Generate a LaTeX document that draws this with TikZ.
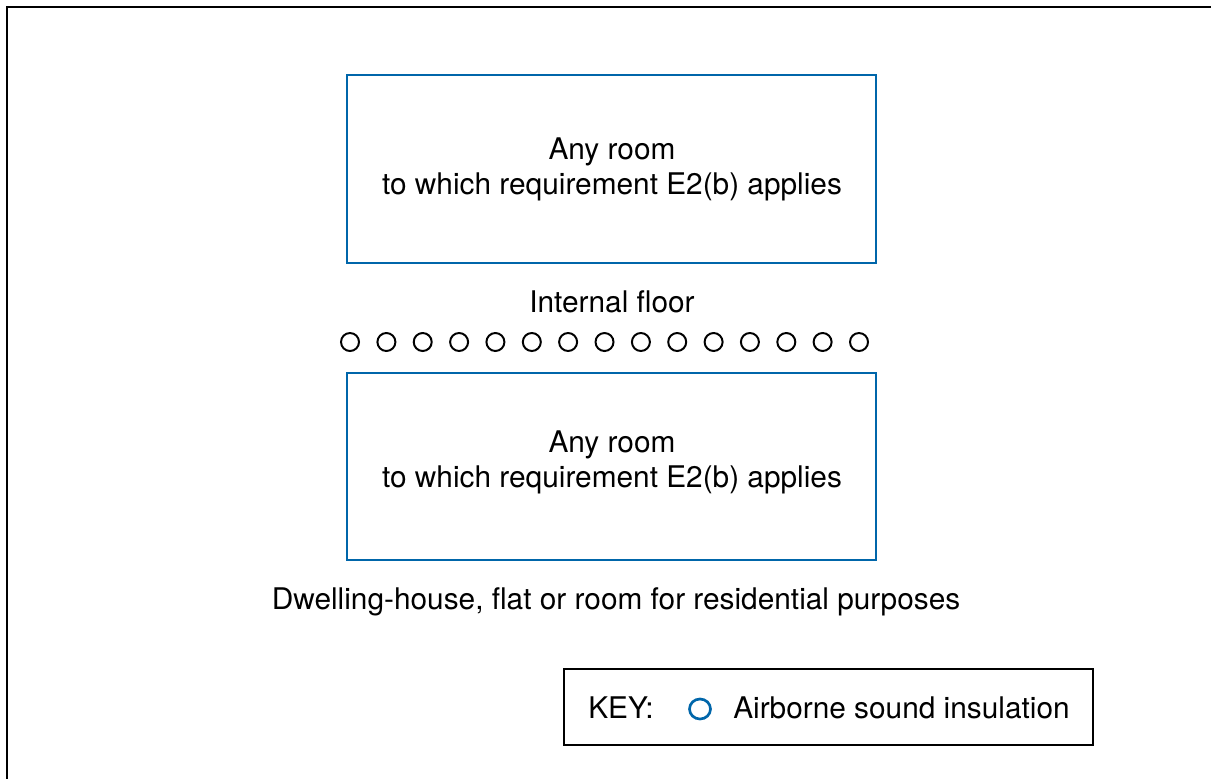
\documentclass[tikz,border=0pt]{standalone}
\usepackage{fontspec}
\setmainfont{TeX Gyre Heros}
\definecolor{roomblue}{RGB}{0,102,170}
\tikzset{
  room/.style={draw=roomblue, line width=1.6pt},
  label/.style={font=\fontsize{21.2}{25}\selectfont, align=center, inner sep=0pt},
  dot/.style={line width=1.4pt}
}
\begin{document}
\begin{tikzpicture}[x=0.025cm, y=-0.025cm]
\useasboundingbox (0,0) rectangle (1211,778);
\clip (0,0) rectangle (1211,778);

% outer frame, open to the right and bottom
\draw[line width=1.6pt] (1230,7) -- (7,7) -- (7,800);

% rooms
\draw[room] (347,75) rectangle (876,263);
\node[label] (upper) at (612,169) {Any room\\to which requirement E2(b) applies};

\node[label] (floor) at (612,302) {Internal floor};

\draw[dot] (350,342) circle (9);
\draw[dot] (386.4,342) circle (9);
\draw[dot] (422.7,342) circle (9);
\draw[dot] (459.1,342) circle (9);
\draw[dot] (495.4,342) circle (9);
\draw[dot] (531.8,342) circle (9);
\draw[dot] (568.1,342) circle (9);
\draw[dot] (604.5,342) circle (9);
\draw[dot] (640.9,342) circle (9);
\draw[dot] (677.2,342) circle (9);
\draw[dot] (713.6,342) circle (9);
\draw[dot] (749.9,342) circle (9);
\draw[dot] (786.3,342) circle (9);
\draw[dot] (822.6,342) circle (9);
\draw[dot] (859,342) circle (9);

\draw[room] (347,373) rectangle (876,560);
\node[label] (lower) at (612,462) {Any room\\to which requirement E2(b) applies};

\node[label] (dwelling) at (616,602) {Dwelling-house, flat or room for residential purposes};

% key
\draw[line width=1.6pt] (564,669) rectangle (1093,745);
\node[label, anchor=west] (key) at (588,708) {KEY:};
\draw[draw=roomblue, line width=1.9pt] (700,709) ellipse (10.5 and 10);
\node[label, anchor=west] (airborne) at (733,708) {Airborne sound insulation};
\end{tikzpicture}
\end{document}
